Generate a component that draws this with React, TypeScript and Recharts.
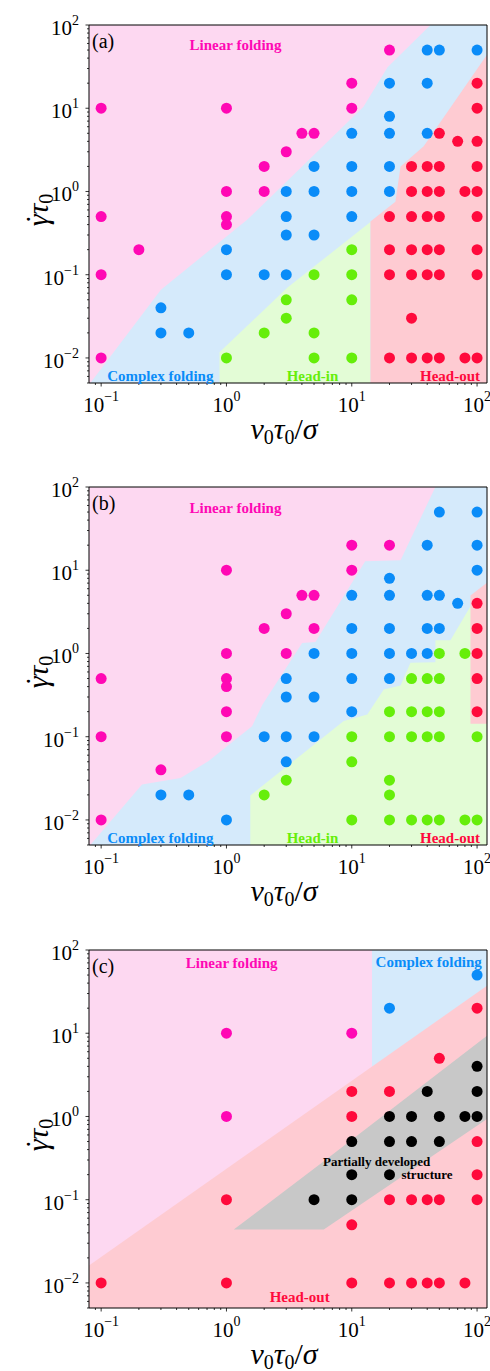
import React from 'react';
import { ComposedChart, Area, Scatter, XAxis, YAxis, CartesianGrid, ReferenceArea } from 'recharts';

type Pt = { x: number; y: number };
type Band = { x: number; r: [number, number] };

const X_DOMAIN: [number, number] = [0.08, 120];
const Y_DOMAIN: [number, number] = [0.005, 100];
const X_MAJOR = [0.1, 1, 10, 100];
const Y_MAJOR = [0.01, 0.1, 1, 10, 100];
const X_MINOR = [0.09, 0.2, 0.3, 0.4, 0.5, 0.6, 0.7, 0.8, 0.9, 2, 3, 4, 5, 6, 7, 8, 9, 20, 30, 40, 50, 60, 70, 80, 90];
const Y_MINOR = [
  0.005, 0.006, 0.007, 0.008, 0.009, 0.02, 0.03, 0.04, 0.05, 0.06, 0.07, 0.08, 0.09,
  0.2, 0.3, 0.4, 0.5, 0.6, 0.7, 0.8, 0.9, 2, 3, 4, 5, 6, 7, 8, 9, 20, 30, 40, 50, 60, 70, 80, 90,
];

// colours
const PINK_Z = '#fdd8f1';
const BLUE_Z = '#d5eafb';
const GREEN_Z = '#e3fcd6';
const RED_Z = '#fecbd2';
const GRAY_Z = '#c8c8c8';
const MAGENTA = '#ff08b4';
const BLUE = '#0a8cf8';
const GREEN = '#66ee0a';
const RED = '#ff0a3c';
const BLACK = '#000000';
const SERIF = '"Liberation Serif", "Times New Roman", serif';

// ---- panel (a) ----
const A_LINEAR: Pt[] = [
  { x: 0.1, y: 10 }, { x: 0.1, y: 0.5 }, { x: 0.1, y: 0.1 }, { x: 0.1, y: 0.01 }, { x: 0.2, y: 0.2 },
  { x: 1, y: 10 }, { x: 1, y: 1 }, { x: 1, y: 0.5 }, { x: 1, y: 0.4 }, { x: 2, y: 2 }, { x: 2, y: 1 },
  { x: 3, y: 3 }, { x: 4, y: 5 }, { x: 5, y: 5 }, { x: 10, y: 20 }, { x: 10, y: 10 }, { x: 20, y: 50 },
];
const A_COMPLEX: Pt[] = [
  { x: 40, y: 50 }, { x: 50, y: 50 }, { x: 100, y: 50 }, { x: 20, y: 20 }, { x: 40, y: 20 }, { x: 20, y: 8 },
  { x: 10, y: 5 }, { x: 20, y: 5 }, { x: 40, y: 5 }, { x: 5, y: 2 }, { x: 10, y: 2 }, { x: 20, y: 2 },
  { x: 3, y: 1 }, { x: 5, y: 1 }, { x: 10, y: 1 }, { x: 20, y: 1 }, { x: 3, y: 0.5 }, { x: 10, y: 0.5 },
  { x: 3, y: 0.3 }, { x: 5, y: 0.3 }, { x: 1, y: 0.2 }, { x: 1, y: 0.1 }, { x: 2, y: 0.1 }, { x: 3, y: 0.1 },
  { x: 0.3, y: 0.04 }, { x: 0.3, y: 0.02 }, { x: 0.5, y: 0.02 },
];
const A_HEADIN: Pt[] = [
  { x: 10, y: 0.2 }, { x: 5, y: 0.1 }, { x: 10, y: 0.1 }, { x: 3, y: 0.05 }, { x: 10, y: 0.05 },
  { x: 3, y: 0.03 }, { x: 2, y: 0.02 }, { x: 5, y: 0.02 }, { x: 1, y: 0.01 }, { x: 5, y: 0.01 }, { x: 10, y: 0.01 },
];
const A_HEADOUT: Pt[] = [
  { x: 100, y: 20 }, { x: 100, y: 10 }, { x: 50, y: 5 }, { x: 70, y: 4 }, { x: 100, y: 4 },
  { x: 30, y: 2 }, { x: 40, y: 2 }, { x: 50, y: 2 }, { x: 100, y: 2 },
  { x: 30, y: 1 }, { x: 40, y: 1 }, { x: 50, y: 1 }, { x: 80, y: 1 }, { x: 100, y: 1 },
  { x: 20, y: 0.5 }, { x: 30, y: 0.5 }, { x: 40, y: 0.5 }, { x: 50, y: 0.5 }, { x: 100, y: 0.5 },
  { x: 20, y: 0.2 }, { x: 30, y: 0.2 }, { x: 40, y: 0.2 }, { x: 50, y: 0.2 }, { x: 100, y: 0.2 },
  { x: 20, y: 0.1 }, { x: 30, y: 0.1 }, { x: 40, y: 0.1 }, { x: 50, y: 0.1 }, { x: 100, y: 0.1 },
  { x: 30, y: 0.03 },
  { x: 20, y: 0.01 }, { x: 30, y: 0.01 }, { x: 40, y: 0.01 }, { x: 50, y: 0.01 }, { x: 80, y: 0.01 }, { x: 100, y: 0.01 },
];
const A_COMPLEX_ZONE: Band[] = [
  { x: 0.082, r: [0.005, 0.005] }, { x: 0.3, r: [0.005, 0.066] }, { x: 1.47, r: [0.005, 0.46] },
  { x: 12.4, r: [0.005, 10.4] }, { x: 19.3, r: [0.005, 31] }, { x: 42.5, r: [0.005, 100] }, { x: 120, r: [0.005, 100] },
];
const A_HEADIN_ZONE: Band[] = [
  { x: 0.88, r: [0.005, 0.0117] }, { x: 3.07, r: [0.005, 0.07] }, { x: 14.1, r: [0.005, 0.43] },
];
const A_HEADOUT_ZONE: Band[] = [
  { x: 14.1, r: [0.005, 0.436] }, { x: 22.3, r: [0.005, 0.75] }, { x: 24.5, r: [0.005, 2.0] },
  { x: 37.5, r: [0.005, 3.5] }, { x: 120, r: [0.005, 44] },
];

// ---- panel (b) ----
const B_LINEAR: Pt[] = [
  { x: 0.1, y: 0.5 }, { x: 0.1, y: 0.1 }, { x: 0.1, y: 0.01 }, { x: 0.3, y: 0.04 },
  { x: 1, y: 10 }, { x: 1, y: 1 }, { x: 1, y: 0.5 }, { x: 1, y: 0.4 }, { x: 1, y: 0.2 }, { x: 1, y: 0.1 },
  { x: 2, y: 2 }, { x: 3, y: 3 }, { x: 3, y: 1 }, { x: 4, y: 5 }, { x: 5, y: 5 }, { x: 5, y: 2 },
  { x: 10, y: 20 }, { x: 10, y: 10 }, { x: 20, y: 20 },
];
const B_COMPLEX: Pt[] = [
  { x: 50, y: 50 }, { x: 100, y: 50 }, { x: 40, y: 20 }, { x: 100, y: 20 }, { x: 100, y: 10 }, { x: 20, y: 8 },
  { x: 10, y: 5 }, { x: 20, y: 5 }, { x: 40, y: 5 }, { x: 50, y: 5 }, { x: 70, y: 4 },
  { x: 10, y: 2 }, { x: 20, y: 2 }, { x: 40, y: 2 }, { x: 50, y: 2 },
  { x: 5, y: 1 }, { x: 10, y: 1 }, { x: 20, y: 1 }, { x: 30, y: 1 }, { x: 40, y: 1 },
  { x: 3, y: 0.5 }, { x: 10, y: 0.5 }, { x: 20, y: 0.5 }, { x: 3, y: 0.3 }, { x: 5, y: 0.3 }, { x: 10, y: 0.2 },
  { x: 2, y: 0.1 }, { x: 3, y: 0.1 }, { x: 5, y: 0.1 }, { x: 3, y: 0.05 },
  { x: 0.3, y: 0.02 }, { x: 0.5, y: 0.02 }, { x: 1, y: 0.01 },
];
const B_HEADIN: Pt[] = [
  { x: 50, y: 1 }, { x: 80, y: 1 }, { x: 30, y: 0.5 }, { x: 40, y: 0.5 }, { x: 50, y: 0.5 },
  { x: 20, y: 0.2 }, { x: 30, y: 0.2 }, { x: 40, y: 0.2 }, { x: 50, y: 0.2 },
  { x: 10, y: 0.1 }, { x: 20, y: 0.1 }, { x: 30, y: 0.1 }, { x: 40, y: 0.1 }, { x: 50, y: 0.1 }, { x: 100, y: 0.1 },
  { x: 10, y: 0.05 }, { x: 3, y: 0.03 }, { x: 20, y: 0.03 }, { x: 2, y: 0.02 }, { x: 20, y: 0.02 },
  { x: 10, y: 0.01 }, { x: 20, y: 0.01 }, { x: 30, y: 0.01 }, { x: 40, y: 0.01 }, { x: 50, y: 0.01 }, { x: 80, y: 0.01 }, { x: 100, y: 0.01 },
];
const B_HEADOUT: Pt[] = [
  { x: 100, y: 4 }, { x: 100, y: 2 }, { x: 100, y: 1 }, { x: 100, y: 0.5 }, { x: 100, y: 0.2 },
];
const B_COMPLEX_ZONE: Band[] = [
  { x: 0.082, r: [0.005, 0.005] }, { x: 0.212, r: [0.005, 0.0267] }, { x: 0.43, r: [0.005, 0.032] },
  { x: 0.72, r: [0.005, 0.051] }, { x: 1.01, r: [0.005, 0.077] }, { x: 1.6, r: [0.005, 0.134] },
  { x: 1.94, r: [0.005, 0.244] }, { x: 4.02, r: [0.005, 1.34] }, { x: 5.13, r: [0.005, 1.37] },
  { x: 12.8, r: [0.005, 12.8] }, { x: 24.5, r: [0.005, 13.2] }, { x: 46.5, r: [0.005, 100] }, { x: 120, r: [0.005, 100] },
];
const B_HEADIN_ZONE: Band[] = [
  { x: 1.55, r: [0.005, 0.0197] }, { x: 8.63, r: [0.005, 0.154] }, { x: 13.3, r: [0.005, 0.185] },
  { x: 18, r: [0.005, 0.37] }, { x: 24.5, r: [0.005, 0.413] }, { x: 29.4, r: [0.005, 0.773] },
  { x: 46.5, r: [0.005, 0.787] }, { x: 46.5, r: [0.005, 1.44] }, { x: 61.3, r: [0.005, 1.44] },
  { x: 88.6, r: [0.005, 3.7] }, { x: 120, r: [0.005, 5.5] },
];
const B_HEADOUT_ZONE: Band[] = [
  { x: 88.6, r: [0.143, 4.97] }, { x: 120, r: [0.143, 7.06] },
];

// ---- panel (c) ----
const C_LINEAR: Pt[] = [{ x: 1, y: 10 }, { x: 10, y: 10 }, { x: 1, y: 1 }];
const C_COMPLEX: Pt[] = [{ x: 100, y: 50 }, { x: 20, y: 20 }];
const C_HEADOUT: Pt[] = [
  { x: 100, y: 20 }, { x: 50, y: 5 }, { x: 10, y: 2 }, { x: 20, y: 2 }, { x: 10, y: 1 },
  { x: 100, y: 0.5 }, { x: 100, y: 0.2 },
  { x: 1, y: 0.1 }, { x: 20, y: 0.1 }, { x: 30, y: 0.1 }, { x: 40, y: 0.1 }, { x: 50, y: 0.1 }, { x: 100, y: 0.1 },
  { x: 10, y: 0.05 },
  { x: 0.1, y: 0.01 }, { x: 1, y: 0.01 }, { x: 10, y: 0.01 }, { x: 20, y: 0.01 }, { x: 30, y: 0.01 },
  { x: 40, y: 0.01 }, { x: 50, y: 0.01 }, { x: 80, y: 0.01 },
];
const C_PARTIAL: Pt[] = [
  { x: 100, y: 4 }, { x: 40, y: 2 }, { x: 100, y: 2 },
  { x: 20, y: 1 }, { x: 30, y: 1 }, { x: 50, y: 1 }, { x: 80, y: 1 }, { x: 100, y: 1 },
  { x: 10, y: 0.5 }, { x: 20, y: 0.5 }, { x: 30, y: 0.5 }, { x: 50, y: 0.5 },
  { x: 10, y: 0.2 }, { x: 20, y: 0.2 }, { x: 5, y: 0.1 }, { x: 10, y: 0.1 },
];
const C_COMPLEX_ZONE: Band[] = [{ x: 14.5, r: [0.005, 100] }, { x: 120, r: [0.005, 100] }];
const C_HEADOUT_ZONE: Band[] = [{ x: 0.08, r: [0.005, 0.0162] }, { x: 120, r: [0.005, 37.2] }];
const C_PARTIAL_ZONE: Band[] = [
  { x: 1.144, r: [0.0438, 0.0438] }, { x: 5.98, r: [0.0438, 0.29] }, { x: 120, r: [0.93, 9.33] },
];

const X_TICKS = [...X_MAJOR, ...X_MINOR];
const Y_TICKS = [...Y_MAJOR, ...Y_MINOR];

const expText = (v: number) => {
  const e = Math.round(Math.log10(v));
  return e < 0 ? '\u2212' + -e : String(e);
};

const XTick = (p: any) => {
  const v = p.payload.value;
  const major = X_MAJOR.includes(v);
  return (
    <g>
      <line x1={p.x} x2={p.x} y1={p.y} y2={p.y + (major ? 3.5 : 2)} stroke="#000" strokeWidth={0.8} />
      {major && (
        <text x={p.x} y={p.y + 28.5} textAnchor="middle" fontFamily={SERIF} fontSize={21} fill="#000">
          10<tspan dy={-11} fontSize={14}>{expText(v)}</tspan>
        </text>
      )}
    </g>
  );
};

const YTick = (p: any) => {
  const v = p.payload.value;
  const major = Y_MAJOR.includes(v);
  return (
    <g>
      <line x1={p.x} x2={p.x - (major ? 3.5 : 2)} y1={p.y} y2={p.y} stroke="#000" strokeWidth={0.8} />
      {major && (
        <text x={p.x - 10} y={p.y + 10} textAnchor="end" fontFamily={SERIF} fontSize={21} fill="#000">
          10<tspan dy={-10} fontSize={14}>{expText(v)}</tspan>
        </text>
      )}
    </g>
  );
};

type Note = { text: string; x: number; y: number; color: string; size: number };

const PLOT_H = 358;

const sub = { fontSize: 20, position: 'relative' as const, top: 5, fontStyle: 'normal' as const };

function Panel(props: {
  tag: string;
  top: number;
  height: number;
  zones: { data: Band[]; fill: string }[];
  series: { data: Pt[]; color: string }[];
  notes: Note[];
}) {
  const { tag, top, height, zones, series, notes } = props;
  return (
    <div style={{ position: 'relative', width: 490, height }}>
      <ComposedChart
        width={490}
        height={height}
        margin={{ top, right: 3, bottom: height - top - PLOT_H - 1, left: 88 }}
      >
        <CartesianGrid horizontal={false} vertical={false} fill={PINK_Z} />
        <XAxis
          type="number"
          dataKey="x"
          scale="log"
          domain={X_DOMAIN}
          allowDataOverflow
          ticks={X_TICKS}
          interval={0}
          tick={(p: any) => <XTick {...p} />}
          tickSize={0}
          tickMargin={0}
          tickLine={false}
          axisLine={false}
          height={1}
        />
        <YAxis
          type="number"
          dataKey="y"
          scale="log"
          domain={Y_DOMAIN}
          allowDataOverflow
          ticks={Y_TICKS}
          interval={0}
          tick={(p: any) => <YTick {...p} />}
          tickSize={0}
          tickMargin={0}
          tickLine={false}
          axisLine={false}
          width={1}
        />
        {zones.map((z, i) => (
          <Area
            key={'z' + i}
            data={z.data}
            dataKey="r"
            type="linear"
            fill={z.fill}
            fillOpacity={1}
            stroke="none"
            dot={false}
            activeDot={false}
            isAnimationActive={false}
          />
        ))}
        {series.map((s, i) => (
          <Scatter
            key={'s' + i}
            data={s.data}
            fill={s.color}
            isAnimationActive={false}
            shape={(p: any) => <circle cx={p.cx} cy={p.cy} r={5.5} fill={s.color} />}
          />
        ))}
        <ReferenceArea
          x1={X_DOMAIN[0]}
          x2={X_DOMAIN[1]}
          y1={Y_DOMAIN[0]}
          y2={Y_DOMAIN[1]}
          fill="none"
          stroke="#000"
          strokeWidth={1}
          ifOverflow="visible"
        />
      </ComposedChart>
      <div style={{ position: 'absolute', left: 92, top: top + 16, transform: 'translateY(-50%)', fontFamily: SERIF, fontSize: 20, lineHeight: 1 }}>
        {tag}
      </div>
      {notes.map((n, i) => (
        <div
          key={i}
          style={{
            position: 'absolute', left: n.x, top: n.y, transform: 'translate(-50%, -50%)',
            fontFamily: SERIF, fontWeight: 'bold', fontSize: n.size, color: n.color,
            whiteSpace: 'nowrap', lineHeight: 1,
          }}
        >
          {n.text}
        </div>
      ))}
      <div
        style={{
          position: 'absolute', left: 38, top: top + 185, transform: 'translate(-50%, -50%) rotate(-90deg)',
          fontFamily: SERIF, fontSize: 30, whiteSpace: 'nowrap', lineHeight: 1, fontStyle: 'italic',
        }}
      >
        <span style={{ position: 'relative' }}>
          {'\u03B3'}
          <span style={{ position: 'absolute', left: 2, top: 1, fontStyle: 'normal' }}>{'\u02D9'}</span>
        </span>
        {'\u03C4'}
        <span style={sub}>0</span>
      </div>
      <div
        style={{
          position: 'absolute', left: 284, top: top + PLOT_H + 46, transform: 'translate(-50%, -50%)',
          fontFamily: SERIF, fontSize: 30, whiteSpace: 'nowrap', lineHeight: 1,
        }}
      >
        <i>v</i>
        <span style={sub}>0</span>
        <i>{'\u03C4'}</i>
        <span style={sub}>0</span>/<i>{'\u03C3'}</i>
      </div>
    </div>
  );
}

export default function App() {
  return (
    <div style={{ position: 'absolute', left: 0, top: 0, width: 490, background: '#fff' }}>
      <Panel
        tag="(a)"
        top={25}
        height={462}
        zones={[
          { data: A_COMPLEX_ZONE, fill: BLUE_Z },
          { data: A_HEADIN_ZONE, fill: GREEN_Z },
          { data: A_HEADOUT_ZONE, fill: RED_Z },
        ]}
        series={[
          { data: A_LINEAR, color: MAGENTA },
          { data: A_COMPLEX, color: BLUE },
          { data: A_HEADIN, color: GREEN },
          { data: A_HEADOUT, color: RED },
        ]}
        notes={[
          { text: 'Linear folding', x: 235.5, y: 45, color: MAGENTA, size: 15 },
          { text: 'Complex folding', x: 160.3, y: 375.7, color: BLUE, size: 15 },
          { text: 'Head-in', x: 312.5, y: 375.7, color: GREEN, size: 15 },
          { text: 'Head-out', x: 450, y: 375.7, color: RED, size: 15 },
        ]}
      />
      <Panel
        tag="(b)"
        top={25}
        height={462}
        zones={[
          { data: B_COMPLEX_ZONE, fill: BLUE_Z },
          { data: B_HEADIN_ZONE, fill: GREEN_Z },
          { data: B_HEADOUT_ZONE, fill: RED_Z },
        ]}
        series={[
          { data: B_LINEAR, color: MAGENTA },
          { data: B_COMPLEX, color: BLUE },
          { data: B_HEADIN, color: GREEN },
          { data: B_HEADOUT, color: RED },
        ]}
        notes={[
          { text: 'Linear folding', x: 235.5, y: 46.3, color: MAGENTA, size: 15 },
          { text: 'Complex folding', x: 160.3, y: 375.7, color: BLUE, size: 15 },
          { text: 'Head-in', x: 312.5, y: 375.7, color: GREEN, size: 15 },
          { text: 'Head-out', x: 450, y: 375.7, color: RED, size: 15 },
        ]}
      />
      <Panel
        tag="(c)"
        top={26}
        height={447}
        zones={[
          { data: C_COMPLEX_ZONE, fill: BLUE_Z },
          { data: C_HEADOUT_ZONE, fill: RED_Z },
          { data: C_PARTIAL_ZONE, fill: GRAY_Z },
        ]}
        series={[
          { data: C_LINEAR, color: MAGENTA },
          { data: C_COMPLEX, color: BLUE },
          { data: C_HEADOUT, color: RED },
          { data: C_PARTIAL, color: BLACK },
        ]}
        notes={[
          { text: 'Linear folding', x: 231.7, y: 39, color: MAGENTA, size: 15 },
          { text: 'Complex folding', x: 428.7, y: 37.7, color: BLUE, size: 15 },
          { text: 'Partially developed', x: 376.7, y: 236.7, color: BLACK, size: 13 },
          { text: 'structure', x: 427, y: 250.3, color: BLACK, size: 13 },
          { text: 'Head-out', x: 299.7, y: 373.3, color: RED, size: 15 },
        ]}
      />
    </div>
  );
}
